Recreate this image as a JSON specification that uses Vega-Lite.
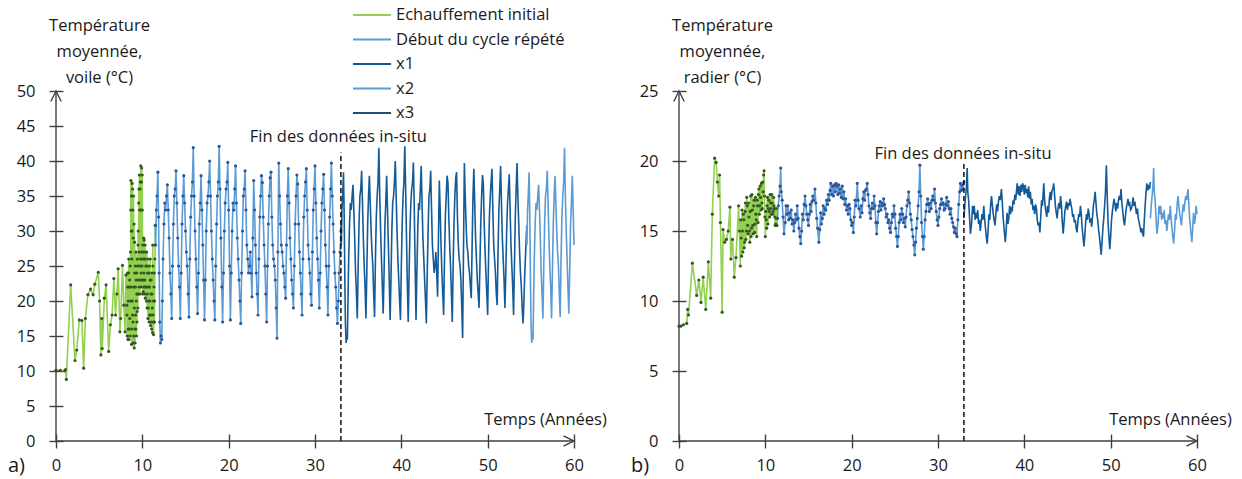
{
"$schema":"https://vega.github.io/schema/vega-lite/v6.json",
"background":"white",
"padding":{"left":8,"top":5,"right":0,"bottom":0},
"bounds":"flush",
"spacing":105,
"config":{
 "font":"Open Sans",
 "view":{"stroke":null},
 "axis":{"domain":false,"grid":false,"offset":-7,"tickSize":14,"tickColor":"#404040","tickWidth":1.4,"labelFontSize":16.5,"labelColor":"#1a1a1a","labelFlush":false,"titleFontSize":16.5,"titleFontWeight":"normal","titleColor":"#1a1a1a"},
 "title":{"fontSize":20,"fontWeight":"normal","orient":"bottom","anchor":"start","frame":"group","dx":-48,"dy":-22,"color":"#1a1a1a"}
},
"datasets":{
"L":[
{"t":0,"v":10.1,"s":"a"},{"t":0.5,"v":10.1,"s":"a"},{"t":1.0,"v":10.0,"s":"a"},{"t":1.1,"v":10.2,"s":"a"},{"t":1.2,"v":8.8,"s":"a"},{"t":1.7,"v":22.3,"s":"a"},{"t":2.2,"v":11.5,"s":"a"},{"t":2.4,"v":13,"s":"a"},{"t":2.7,"v":17.3,"s":"a"},{"t":3.0,"v":17.2,"s":"a"},{"t":3.2,"v":10.4,"s":"a"},{"t":3.4,"v":17.5,"s":"a"},{"t":3.7,"v":20.9,"s":"a"},{"t":4.0,"v":21.7,"s":"a"},{"t":4.3,"v":20.9,"s":"a"},{"t":4.5,"v":22.4,"s":"a"},{"t":4.9,"v":24.1,"s":"a"},{"t":5.05,"v":20,"s":"a"},{"t":5.2,"v":12.3,"s":"a"},{"t":5.3,"v":17.5,"s":"a"},{"t":5.35,"v":13.2,"s":"a"},{"t":5.6,"v":20.4,"s":"a"},{"t":5.8,"v":22.3,"s":"a"},{"t":6.1,"v":12.8,"s":"a"},{"t":6.3,"v":16.6,"s":"a"},{"t":6.5,"v":18,"s":"a"},{"t":6.7,"v":23.2,"s":"a"},{"t":6.9,"v":18,"s":"a"},{"t":7.05,"v":21,"s":"a"},{"t":7.2,"v":24.6,"s":"a"},{"t":7.4,"v":15.6,"s":"a"},{"t":7.5,"v":17.5,"s":"a"},{"t":7.7,"v":25.1,"s":"a"},{"t":7.85,"v":19.4,"s":"a"},{"t":8.0,"v":15.6,"s":"a"},{"t":8.1,"v":23.7,"s":"a"},{"t":8.2,"v":19.4,"s":"a"},{"t":8.25,"v":15,"s":"a"},{"t":8.3,"v":22,"s":"a"},{"t":8.35,"v":16,"s":"a"},{"t":8.4,"v":24,"s":"a"},{"t":8.45,"v":14.5,"s":"a"},{"t":8.5,"v":22,"s":"a"},{"t":8.55,"v":17.5,"s":"a"},{"t":8.6,"v":25,"s":"a"},{"t":8.65,"v":20,"s":"a"},{"t":8.68,"v":37.2,"s":"a"},{"t":8.72,"v":30,"s":"a"},{"t":8.75,"v":13.8,"s":"a"},{"t":8.78,"v":26,"s":"a"},{"t":8.82,"v":36.8,"s":"a"},{"t":8.86,"v":18,"s":"a"},{"t":8.9,"v":33,"s":"a"},{"t":8.94,"v":14,"s":"a"},{"t":8.98,"v":35,"s":"a"},{"t":9.02,"v":22,"s":"a"},{"t":9.06,"v":13.3,"s":"a"},{"t":9.1,"v":28.4,"s":"a"},{"t":9.14,"v":16,"s":"a"},{"t":9.18,"v":25,"s":"a"},{"t":9.22,"v":18,"s":"a"},{"t":9.26,"v":27,"s":"a"},{"t":9.3,"v":20,"s":"a"},{"t":9.34,"v":24,"s":"a"},{"t":9.38,"v":17,"s":"a"},{"t":9.42,"v":26,"s":"a"},{"t":9.46,"v":21,"s":"a"},{"t":9.5,"v":28,"s":"a"},{"t":9.54,"v":23,"s":"a"},{"t":9.58,"v":34,"s":"a"},{"t":9.62,"v":22,"s":"a"},{"t":9.66,"v":38,"s":"a"},{"t":9.7,"v":25,"s":"a"},{"t":9.74,"v":36,"s":"a"},{"t":9.78,"v":23,"s":"a"},{"t":9.82,"v":39.3,"s":"a"},{"t":9.86,"v":24,"s":"a"},{"t":9.9,"v":37,"s":"a"},{"t":9.94,"v":27,"s":"a"},{"t":9.98,"v":38,"s":"a"},{"t":10.02,"v":23,"s":"a"},{"t":10.06,"v":28,"s":"a"},{"t":10.1,"v":21.3,"s":"a"},{"t":10.14,"v":27,"s":"a"},{"t":10.18,"v":24,"s":"a"},{"t":10.22,"v":28.7,"s":"a"},{"t":10.26,"v":21,"s":"a"},{"t":10.3,"v":26,"s":"a"},{"t":10.35,"v":20.4,"s":"a"},{"t":10.4,"v":25,"s":"a"},{"t":10.45,"v":22,"s":"a"},{"t":10.5,"v":27,"s":"a"},{"t":10.55,"v":19,"s":"a"},{"t":10.6,"v":24,"s":"a"},{"t":10.65,"v":17.5,"s":"a"},{"t":10.7,"v":22,"s":"a"},{"t":10.75,"v":20,"s":"a"},{"t":10.8,"v":25,"s":"a"},{"t":10.85,"v":18,"s":"a"},{"t":10.9,"v":23,"s":"a"},{"t":10.95,"v":16.5,"s":"a"},{"t":11.0,"v":21,"s":"a"},{"t":11.05,"v":17,"s":"a"},{"t":11.1,"v":24,"s":"a"},{"t":11.15,"v":19,"s":"a"},{"t":11.2,"v":28,"s":"a"},{"t":11.25,"v":18,"s":"a"},{"t":11.3,"v":15.2,"s":"a"},{"t":11.35,"v":22,"s":"a"},{"t":11.4,"v":17,"s":"a"},{"t":11.45,"v":26,"s":"a"},{"t":11.5,"v":30.8,"s":"a"},
{"t":8.22,"v":18,"s":"a"},{"t":8.28,"v":24,"s":"a"},{"t":8.33,"v":14.5,"s":"a"},{"t":8.38,"v":20,"s":"a"},{"t":8.43,"v":26,"s":"a"},{"t":8.48,"v":16,"s":"a"},{"t":8.53,"v":23,"s":"a"},{"t":8.58,"v":15,"s":"a"},{"t":8.63,"v":27,"s":"a"},{"t":8.66,"v":33,"s":"a"},{"t":8.7,"v":22,"s":"a"},{"t":8.74,"v":35,"s":"a"},{"t":8.77,"v":16,"s":"a"},{"t":8.8,"v":30,"s":"a"},{"t":8.84,"v":20,"s":"a"},{"t":8.88,"v":36,"s":"a"},{"t":8.92,"v":17,"s":"a"},{"t":8.96,"v":29,"s":"a"},{"t":9.0,"v":15,"s":"a"},{"t":9.04,"v":31,"s":"a"},{"t":9.08,"v":19,"s":"a"},{"t":9.12,"v":24,"s":"a"},{"t":9.16,"v":14,"s":"a"},{"t":9.2,"v":22,"s":"a"},{"t":9.24,"v":16,"s":"a"},{"t":9.28,"v":23,"s":"a"},{"t":9.32,"v":15,"s":"a"},{"t":9.36,"v":21,"s":"a"},{"t":9.4,"v":18.5,"s":"a"},{"t":9.44,"v":25,"s":"a"},{"t":9.48,"v":19,"s":"a"},{"t":9.52,"v":30,"s":"a"},{"t":9.56,"v":21,"s":"a"},{"t":9.6,"v":36,"s":"a"},{"t":9.64,"v":27,"s":"a"},{"t":9.68,"v":33,"s":"a"},{"t":9.72,"v":21,"s":"a"},{"t":9.76,"v":37,"s":"a"},{"t":9.8,"v":26,"s":"a"},{"t":9.84,"v":33,"s":"a"},{"t":9.88,"v":22,"s":"a"},{"t":9.92,"v":39,"s":"a"},{"t":9.96,"v":25,"s":"a"},{"t":10.0,"v":33,"s":"a"},{"t":10.04,"v":21,"s":"a"},{"t":10.08,"v":26,"s":"a"},{"t":10.12,"v":23,"s":"a"},{"t":10.16,"v":29,"s":"a"},{"t":10.2,"v":22,"s":"a"},{"t":10.24,"v":26,"s":"a"},{"t":10.28,"v":23,"s":"a"},{"t":10.32,"v":28,"s":"a"},{"t":10.38,"v":22,"s":"a"},{"t":10.42,"v":27,"s":"a"},{"t":10.48,"v":20,"s":"a"},{"t":10.52,"v":25,"s":"a"},{"t":10.58,"v":21,"s":"a"},{"t":10.62,"v":26,"s":"a"},{"t":10.68,"v":19,"s":"a"},{"t":10.72,"v":24,"s":"a"},{"t":10.78,"v":17,"s":"a"},{"t":10.82,"v":22,"s":"a"},{"t":10.88,"v":20,"s":"a"},{"t":10.92,"v":26,"s":"a"},{"t":10.98,"v":18,"s":"a"},{"t":11.02,"v":23,"s":"a"},{"t":11.08,"v":16,"s":"a"},{"t":11.12,"v":21,"s":"a"},{"t":11.18,"v":15.5,"s":"a"},{"t":11.22,"v":25,"s":"a"},{"t":11.28,"v":20,"s":"a"},{"t":11.32,"v":17,"s":"a"},{"t":11.38,"v":24,"s":"a"},{"t":11.42,"v":20,"s":"a"},{"t":11.48,"v":28,"s":"a"},
{"t":11.5,"v":30.8,"s":"b"},{"t":11.55,"v":28,"s":"b"},{"t":11.62,"v":33,"s":"b"},{"t":11.7,"v":35,"s":"b"},{"t":11.8,"v":38.4,"s":"b"},{"t":11.88,"v":32,"s":"b"},{"t":11.95,"v":24,"s":"b"},{"t":12.02,"v":17,"s":"b"},{"t":12.1,"v":14,"s":"b"},{"t":12.18,"v":15,"s":"b"},{"t":12.25,"v":14.5,"s":"b"},{"t":12.32,"v":20,"s":"b"},{"t":12.4,"v":26,"s":"b"},{"t":12.5,"v":31,"s":"b"},{"t":12.6,"v":34,"s":"b"},{"t":12.7,"v":33,"s":"b"},{"t":12.8,"v":35,"s":"b"},{"t":12.9,"v":36.6,"s":"b"},{"t":13.0,"v":33,"s":"b"},{"t":13.1,"v":29,"s":"b"},{"t":13.2,"v":24,"s":"b"},{"t":13.3,"v":21,"s":"b"},{"t":13.4,"v":17.5,"s":"b"},{"t":13.5,"v":25,"s":"b"},{"t":13.6,"v":31,"s":"b"},{"t":13.7,"v":35,"s":"b"},{"t":13.8,"v":36,"s":"b"},{"t":13.9,"v":38.6,"s":"b"},{"t":14.0,"v":34,"s":"b"},{"t":14.1,"v":29,"s":"b"},{"t":14.2,"v":25,"s":"b"},{"t":14.3,"v":22,"s":"b"},{"t":14.4,"v":17.5,"s":"b"},{"t":14.5,"v":24,"s":"b"},{"t":14.6,"v":31,"s":"b"},{"t":14.7,"v":35,"s":"b"},{"t":14.8,"v":37.9,"s":"b"},{"t":14.9,"v":34,"s":"b"},{"t":15.0,"v":30,"s":"b"},{"t":15.1,"v":27,"s":"b"},{"t":15.2,"v":25,"s":"b"},{"t":15.3,"v":21,"s":"b"},{"t":15.4,"v":17.7,"s":"b"},{"t":15.5,"v":26,"s":"b"},{"t":15.6,"v":32,"s":"b"},{"t":15.7,"v":35,"s":"b"},{"t":15.8,"v":37,"s":"b"},{"t":15.9,"v":41.9,"s":"b"},{"t":16.0,"v":35,"s":"b"},{"t":16.1,"v":30,"s":"b"},{"t":16.2,"v":26,"s":"b"},{"t":16.3,"v":22,"s":"b"},{"t":16.4,"v":18.2,"s":"b"},{"t":16.5,"v":24,"s":"b"},{"t":16.6,"v":31,"s":"b"},{"t":16.7,"v":34,"s":"b"},{"t":16.8,"v":37.9,"s":"b"},{"t":16.9,"v":33,"s":"b"},{"t":17.0,"v":28,"s":"b"},{"t":17.1,"v":23,"s":"b"},{"t":17.2,"v":17.3,"s":"b"},{"t":17.3,"v":23,"s":"b"},{"t":17.4,"v":30,"s":"b"},{"t":17.5,"v":34,"s":"b"},{"t":17.6,"v":35,"s":"b"},{"t":17.7,"v":37,"s":"b"},{"t":17.8,"v":40,"s":"b"},{"t":17.9,"v":35,"s":"b"},{"t":18.0,"v":30,"s":"b"},{"t":18.1,"v":26,"s":"b"},{"t":18.2,"v":23,"s":"b"},{"t":18.3,"v":20,"s":"b"},{"t":18.4,"v":17.3,"s":"b"},{"t":18.5,"v":25,"s":"b"},{"t":18.6,"v":31,"s":"b"},{"t":18.7,"v":35,"s":"b"},{"t":18.8,"v":37,"s":"b"},{"t":18.9,"v":42.1,"s":"b"},{"t":19.0,"v":36,"s":"b"},{"t":19.1,"v":29,"s":"b"},{"t":19.2,"v":22,"s":"b"},{"t":19.3,"v":17,"s":"b"},{"t":19.4,"v":24,"s":"b"},{"t":19.5,"v":30,"s":"b"},{"t":19.6,"v":34,"s":"b"},{"t":19.7,"v":36,"s":"b"},{"t":19.8,"v":37,"s":"b"},{"t":19.9,"v":39.8,"s":"b"},{"t":20.0,"v":33,"s":"b"},{"t":20.1,"v":25,"s":"b"},{"t":20.2,"v":17.3,"s":"b"},{"t":20.3,"v":24,"s":"b"},{"t":20.4,"v":30,"s":"b"},{"t":20.5,"v":34,"s":"b"},{"t":20.6,"v":33,"s":"b"},{"t":20.7,"v":36,"s":"b"},{"t":20.8,"v":39.3,"s":"b"},{"t":20.9,"v":34,"s":"b"},{"t":21.0,"v":29,"s":"b"},{"t":21.1,"v":26,"s":"b"},{"t":21.2,"v":23,"s":"b"},{"t":21.3,"v":20,"s":"b"},{"t":21.4,"v":16.8,"s":"b"},{"t":21.5,"v":24,"s":"b"},{"t":21.6,"v":30,"s":"b"},{"t":21.7,"v":35,"s":"b"},{"t":21.8,"v":36,"s":"b"},{"t":21.9,"v":38.6,"s":"b"},{"t":22.0,"v":33,"s":"b"},{"t":22.1,"v":28,"s":"b"},{"t":22.2,"v":26,"s":"b"},{"t":22.3,"v":24,"s":"b"},{"t":22.4,"v":25,"s":"b"},{"t":22.5,"v":27,"s":"b"},{"t":22.6,"v":24,"s":"b"},{"t":22.7,"v":20.6,"s":"b"},{"t":22.8,"v":29,"s":"b"},{"t":22.9,"v":37.2,"s":"b"},{"t":23.0,"v":33,"s":"b"},{"t":23.1,"v":28,"s":"b"},{"t":23.2,"v":24,"s":"b"},{"t":23.3,"v":21,"s":"b"},{"t":23.4,"v":18,"s":"b"},{"t":23.5,"v":26,"s":"b"},{"t":23.6,"v":32,"s":"b"},{"t":23.7,"v":35,"s":"b"},{"t":23.8,"v":37.9,"s":"b"},{"t":23.9,"v":36.9,"s":"b"},{"t":24.0,"v":32,"s":"b"},{"t":24.1,"v":28,"s":"b"},{"t":24.2,"v":25,"s":"b"},{"t":24.3,"v":21,"s":"b"},{"t":24.4,"v":17,"s":"b"},{"t":24.5,"v":25,"s":"b"},{"t":24.6,"v":31,"s":"b"},{"t":24.7,"v":35,"s":"b"},{"t":24.8,"v":37.6,"s":"b"},{"t":24.9,"v":38.4,"s":"b"},{"t":25.0,"v":32,"s":"b"},{"t":25.1,"v":28,"s":"b"},{"t":25.2,"v":26,"s":"b"},{"t":25.3,"v":25,"s":"b"},{"t":25.4,"v":23,"s":"b"},{"t":25.5,"v":19,"s":"b"},{"t":25.6,"v":14.7,"s":"b"},{"t":25.7,"v":27,"s":"b"},{"t":25.8,"v":39.7,"s":"b"},{"t":25.9,"v":35,"s":"b"},{"t":26.0,"v":31,"s":"b"},{"t":26.1,"v":28,"s":"b"},{"t":26.2,"v":27,"s":"b"},{"t":26.3,"v":25,"s":"b"},{"t":26.4,"v":24,"s":"b"},{"t":26.5,"v":22,"s":"b"},{"t":26.6,"v":20.4,"s":"b"},{"t":26.7,"v":28,"s":"b"},{"t":26.8,"v":35,"s":"b"},{"t":26.9,"v":38.9,"s":"b"},{"t":27.0,"v":34,"s":"b"},{"t":27.1,"v":29,"s":"b"},{"t":27.2,"v":26,"s":"b"},{"t":27.3,"v":23,"s":"b"},{"t":27.4,"v":21,"s":"b"},{"t":27.5,"v":19,"s":"b"},{"t":27.6,"v":25,"s":"b"},{"t":27.7,"v":31,"s":"b"},{"t":27.8,"v":35,"s":"b"},{"t":27.9,"v":38,"s":"b"},{"t":28.0,"v":36.7,"s":"b"},{"t":28.1,"v":31,"s":"b"},{"t":28.2,"v":27,"s":"b"},{"t":28.3,"v":24,"s":"b"},{"t":28.4,"v":21,"s":"b"},{"t":28.5,"v":18,"s":"b"},{"t":28.6,"v":26,"s":"b"},{"t":28.7,"v":32,"s":"b"},{"t":28.8,"v":35,"s":"b"},{"t":28.9,"v":37,"s":"b"},{"t":29.0,"v":38.9,"s":"b"},{"t":29.1,"v":33,"s":"b"},{"t":29.2,"v":28,"s":"b"},{"t":29.3,"v":26,"s":"b"},{"t":29.4,"v":24,"s":"b"},{"t":29.5,"v":21,"s":"b"},{"t":29.6,"v":19.4,"s":"b"},{"t":29.7,"v":27,"s":"b"},{"t":29.8,"v":33,"s":"b"},{"t":29.9,"v":36,"s":"b"},{"t":30.0,"v":39.3,"s":"b"},{"t":30.1,"v":34,"s":"b"},{"t":30.2,"v":29,"s":"b"},{"t":30.3,"v":26,"s":"b"},{"t":30.4,"v":23,"s":"b"},{"t":30.5,"v":19,"s":"b"},{"t":30.6,"v":24,"s":"b"},{"t":30.7,"v":30,"s":"b"},{"t":30.8,"v":34,"s":"b"},{"t":30.9,"v":36,"s":"b"},{"t":31.0,"v":38.1,"s":"b"},{"t":31.1,"v":33,"s":"b"},{"t":31.2,"v":28,"s":"b"},{"t":31.3,"v":25,"s":"b"},{"t":31.4,"v":22,"s":"b"},{"t":31.5,"v":18,"s":"b"},{"t":31.6,"v":25,"s":"b"},{"t":31.7,"v":32,"s":"b"},{"t":31.8,"v":36,"s":"b"},{"t":31.9,"v":39.7,"s":"b"},{"t":32.0,"v":35,"s":"b"},{"t":32.1,"v":31,"s":"b"},{"t":32.2,"v":27,"s":"b"},{"t":32.3,"v":24,"s":"b"},{"t":32.4,"v":22,"s":"b"},{"t":32.5,"v":19,"s":"b"},{"t":32.6,"v":16.8,"s":"b"},{"t":32.7,"v":20,"s":"b"},{"t":32.8,"v":24,"s":"b"},{"t":32.9,"v":27,"s":"b"},{"t":33.0,"v":30,"s":"b"},
{"t":33,"v":30.8,"s":"c"},{"t":33.05,"v":28,"s":"c"},{"t":33.12,"v":33,"s":"c"},{"t":33.2,"v":35,"s":"c"},{"t":33.3,"v":38.4,"s":"c"},{"t":33.38,"v":32,"s":"c"},{"t":33.45,"v":24,"s":"c"},{"t":33.52,"v":17,"s":"c"},{"t":33.6,"v":14,"s":"c"},{"t":33.68,"v":15,"s":"c"},{"t":33.75,"v":14.5,"s":"c"},{"t":33.82,"v":20,"s":"c"},{"t":33.9,"v":26,"s":"c"},{"t":34,"v":31,"s":"c"},{"t":34.1,"v":34,"s":"c"},{"t":34.2,"v":33,"s":"c"},{"t":34.3,"v":35,"s":"c"},{"t":34.4,"v":36.6,"s":"c"},{"t":34.5,"v":33,"s":"c"},{"t":34.6,"v":29,"s":"c"},{"t":34.7,"v":24,"s":"c"},{"t":34.8,"v":21,"s":"c"},{"t":34.9,"v":17.5,"s":"c"},{"t":35,"v":25,"s":"c"},{"t":35.1,"v":31,"s":"c"},{"t":35.2,"v":35,"s":"c"},{"t":35.3,"v":36,"s":"c"},{"t":35.4,"v":38.6,"s":"c"},{"t":35.5,"v":34,"s":"c"},{"t":35.6,"v":29,"s":"c"},{"t":35.7,"v":25,"s":"c"},{"t":35.8,"v":22,"s":"c"},{"t":35.9,"v":17.5,"s":"c"},{"t":36,"v":24,"s":"c"},{"t":36.1,"v":31,"s":"c"},{"t":36.2,"v":35,"s":"c"},{"t":36.3,"v":37.9,"s":"c"},{"t":36.4,"v":34,"s":"c"},{"t":36.5,"v":30,"s":"c"},{"t":36.6,"v":27,"s":"c"},{"t":36.7,"v":25,"s":"c"},{"t":36.8,"v":21,"s":"c"},{"t":36.9,"v":17.7,"s":"c"},{"t":37,"v":26,"s":"c"},{"t":37.1,"v":32,"s":"c"},{"t":37.2,"v":35,"s":"c"},{"t":37.3,"v":37,"s":"c"},{"t":37.4,"v":41.9,"s":"c"},{"t":37.5,"v":35,"s":"c"},{"t":37.6,"v":30,"s":"c"},{"t":37.7,"v":26,"s":"c"},{"t":37.8,"v":22,"s":"c"},{"t":37.9,"v":18.2,"s":"c"},{"t":38,"v":24,"s":"c"},{"t":38.1,"v":31,"s":"c"},{"t":38.2,"v":34,"s":"c"},{"t":38.3,"v":37.9,"s":"c"},{"t":38.4,"v":33,"s":"c"},{"t":38.5,"v":28,"s":"c"},{"t":38.6,"v":23,"s":"c"},{"t":38.7,"v":17.3,"s":"c"},{"t":38.8,"v":23,"s":"c"},{"t":38.9,"v":30,"s":"c"},{"t":39,"v":34,"s":"c"},{"t":39.1,"v":35,"s":"c"},{"t":39.2,"v":37,"s":"c"},{"t":39.3,"v":40,"s":"c"},{"t":39.4,"v":35,"s":"c"},{"t":39.5,"v":30,"s":"c"},{"t":39.6,"v":26,"s":"c"},{"t":39.7,"v":23,"s":"c"},{"t":39.8,"v":20,"s":"c"},{"t":39.9,"v":17.3,"s":"c"},{"t":40,"v":25,"s":"c"},{"t":40.1,"v":31,"s":"c"},{"t":40.2,"v":35,"s":"c"},{"t":40.3,"v":37,"s":"c"},{"t":40.4,"v":42.1,"s":"c"},{"t":40.5,"v":36,"s":"c"},{"t":40.6,"v":29,"s":"c"},{"t":40.7,"v":22,"s":"c"},{"t":40.8,"v":17,"s":"c"},{"t":40.9,"v":24,"s":"c"},{"t":41,"v":30,"s":"c"},{"t":41.1,"v":34,"s":"c"},{"t":41.2,"v":36,"s":"c"},{"t":41.3,"v":37,"s":"c"},{"t":41.4,"v":39.8,"s":"c"},{"t":41.5,"v":33,"s":"c"},{"t":41.6,"v":25,"s":"c"},{"t":41.7,"v":17.3,"s":"c"},{"t":41.8,"v":24,"s":"c"},{"t":41.9,"v":30,"s":"c"},{"t":42,"v":34,"s":"c"},{"t":42.1,"v":33,"s":"c"},{"t":42.2,"v":36,"s":"c"},{"t":42.3,"v":39.3,"s":"c"},{"t":42.4,"v":34,"s":"c"},{"t":42.5,"v":29,"s":"c"},{"t":42.6,"v":26,"s":"c"},{"t":42.7,"v":23,"s":"c"},{"t":42.8,"v":20,"s":"c"},{"t":42.9,"v":16.8,"s":"c"},{"t":43,"v":24,"s":"c"},{"t":43.1,"v":30,"s":"c"},{"t":43.2,"v":35,"s":"c"},{"t":43.3,"v":36,"s":"c"},{"t":43.4,"v":38.6,"s":"c"},{"t":43.5,"v":33,"s":"c"},{"t":43.6,"v":28,"s":"c"},{"t":43.7,"v":26,"s":"c"},{"t":43.8,"v":24,"s":"c"},{"t":43.9,"v":25,"s":"c"},{"t":44,"v":27,"s":"c"},{"t":44.1,"v":24,"s":"c"},{"t":44.2,"v":20.6,"s":"c"},{"t":44.3,"v":29,"s":"c"},{"t":44.4,"v":37.2,"s":"c"},{"t":44.5,"v":33,"s":"c"},{"t":44.6,"v":28,"s":"c"},{"t":44.7,"v":24,"s":"c"},{"t":44.8,"v":21,"s":"c"},{"t":44.9,"v":18,"s":"c"},{"t":45,"v":26,"s":"c"},{"t":45.1,"v":32,"s":"c"},{"t":45.2,"v":35,"s":"c"},{"t":45.3,"v":37.9,"s":"c"},{"t":45.4,"v":36.9,"s":"c"},{"t":45.5,"v":32,"s":"c"},{"t":45.6,"v":28,"s":"c"},{"t":45.7,"v":25,"s":"c"},{"t":45.8,"v":21,"s":"c"},{"t":45.9,"v":17,"s":"c"},{"t":46,"v":25,"s":"c"},{"t":46.1,"v":31,"s":"c"},{"t":46.2,"v":35,"s":"c"},{"t":46.3,"v":37.6,"s":"c"},{"t":46.4,"v":38.4,"s":"c"},{"t":46.5,"v":32,"s":"c"},{"t":46.6,"v":28,"s":"c"},{"t":46.7,"v":26,"s":"c"},{"t":46.8,"v":25,"s":"c"},{"t":46.9,"v":23,"s":"c"},{"t":47,"v":19,"s":"c"},{"t":47.1,"v":14.7,"s":"c"},{"t":47.2,"v":27,"s":"c"},{"t":47.3,"v":39.7,"s":"c"},{"t":47.4,"v":35,"s":"c"},{"t":47.5,"v":31,"s":"c"},{"t":47.6,"v":28,"s":"c"},{"t":47.7,"v":27,"s":"c"},{"t":47.8,"v":25,"s":"c"},{"t":47.9,"v":24,"s":"c"},{"t":48,"v":22,"s":"c"},{"t":48.1,"v":20.4,"s":"c"},{"t":48.2,"v":28,"s":"c"},{"t":48.3,"v":35,"s":"c"},{"t":48.4,"v":38.9,"s":"c"},{"t":48.5,"v":34,"s":"c"},{"t":48.6,"v":29,"s":"c"},{"t":48.7,"v":26,"s":"c"},{"t":48.8,"v":23,"s":"c"},{"t":48.9,"v":21,"s":"c"},{"t":49,"v":19,"s":"c"},{"t":49.1,"v":25,"s":"c"},{"t":49.2,"v":31,"s":"c"},{"t":49.3,"v":35,"s":"c"},{"t":49.4,"v":38,"s":"c"},{"t":49.5,"v":36.7,"s":"c"},{"t":49.6,"v":31,"s":"c"},{"t":49.7,"v":27,"s":"c"},{"t":49.8,"v":24,"s":"c"},{"t":49.9,"v":21,"s":"c"},{"t":50,"v":18,"s":"c"},{"t":50.1,"v":26,"s":"c"},{"t":50.2,"v":32,"s":"c"},{"t":50.3,"v":35,"s":"c"},{"t":50.4,"v":37,"s":"c"},{"t":50.5,"v":38.9,"s":"c"},{"t":50.6,"v":33,"s":"c"},{"t":50.7,"v":28,"s":"c"},{"t":50.8,"v":26,"s":"c"},{"t":50.9,"v":24,"s":"c"},{"t":51,"v":21,"s":"c"},{"t":51.1,"v":19.4,"s":"c"},{"t":51.2,"v":27,"s":"c"},{"t":51.3,"v":33,"s":"c"},{"t":51.4,"v":36,"s":"c"},{"t":51.5,"v":39.3,"s":"c"},{"t":51.6,"v":34,"s":"c"},{"t":51.7,"v":29,"s":"c"},{"t":51.8,"v":26,"s":"c"},{"t":51.9,"v":23,"s":"c"},{"t":52,"v":19,"s":"c"},{"t":52.1,"v":24,"s":"c"},{"t":52.2,"v":30,"s":"c"},{"t":52.3,"v":34,"s":"c"},{"t":52.4,"v":36,"s":"c"},{"t":52.5,"v":38.1,"s":"c"},{"t":52.6,"v":33,"s":"c"},{"t":52.7,"v":28,"s":"c"},{"t":52.8,"v":25,"s":"c"},{"t":52.9,"v":22,"s":"c"},{"t":53,"v":18,"s":"c"},{"t":53.1,"v":25,"s":"c"},{"t":53.2,"v":32,"s":"c"},{"t":53.3,"v":36,"s":"c"},{"t":53.4,"v":39.7,"s":"c"},{"t":53.5,"v":35,"s":"c"},{"t":53.6,"v":31,"s":"c"},{"t":53.7,"v":27,"s":"c"},{"t":53.8,"v":24,"s":"c"},{"t":53.9,"v":22,"s":"c"},{"t":54,"v":19,"s":"c"},{"t":54.1,"v":16.8,"s":"c"},{"t":54.2,"v":20,"s":"c"},{"t":54.3,"v":24,"s":"c"},{"t":54.4,"v":27,"s":"c"},{"t":54.5,"v":30,"s":"c"},
{"t":54.5,"v":30.8,"s":"d"},{"t":54.55,"v":28,"s":"d"},{"t":54.62,"v":33,"s":"d"},{"t":54.7,"v":35,"s":"d"},{"t":54.8,"v":38.4,"s":"d"},{"t":54.88,"v":32,"s":"d"},{"t":54.95,"v":24,"s":"d"},{"t":55.02,"v":17,"s":"d"},{"t":55.1,"v":14,"s":"d"},{"t":55.18,"v":15,"s":"d"},{"t":55.25,"v":14.5,"s":"d"},{"t":55.32,"v":20,"s":"d"},{"t":55.4,"v":26,"s":"d"},{"t":55.5,"v":31,"s":"d"},{"t":55.6,"v":34,"s":"d"},{"t":55.7,"v":33,"s":"d"},{"t":55.8,"v":35,"s":"d"},{"t":55.9,"v":36.6,"s":"d"},{"t":56,"v":33,"s":"d"},{"t":56.1,"v":29,"s":"d"},{"t":56.2,"v":24,"s":"d"},{"t":56.3,"v":21,"s":"d"},{"t":56.4,"v":17.5,"s":"d"},{"t":56.5,"v":25,"s":"d"},{"t":56.6,"v":31,"s":"d"},{"t":56.7,"v":35,"s":"d"},{"t":56.8,"v":36,"s":"d"},{"t":56.9,"v":38.6,"s":"d"},{"t":57,"v":34,"s":"d"},{"t":57.1,"v":29,"s":"d"},{"t":57.2,"v":25,"s":"d"},{"t":57.3,"v":22,"s":"d"},{"t":57.4,"v":17.5,"s":"d"},{"t":57.5,"v":24,"s":"d"},{"t":57.6,"v":31,"s":"d"},{"t":57.7,"v":35,"s":"d"},{"t":57.8,"v":37.9,"s":"d"},{"t":57.9,"v":34,"s":"d"},{"t":58,"v":30,"s":"d"},{"t":58.1,"v":27,"s":"d"},{"t":58.2,"v":25,"s":"d"},{"t":58.3,"v":21,"s":"d"},{"t":58.4,"v":17.7,"s":"d"},{"t":58.5,"v":26,"s":"d"},{"t":58.6,"v":32,"s":"d"},{"t":58.7,"v":35,"s":"d"},{"t":58.8,"v":37,"s":"d"},{"t":58.9,"v":41.9,"s":"d"},{"t":59,"v":35,"s":"d"},{"t":59.1,"v":30,"s":"d"},{"t":59.2,"v":26,"s":"d"},{"t":59.3,"v":22,"s":"d"},{"t":59.4,"v":18.2,"s":"d"},{"t":59.5,"v":24,"s":"d"},{"t":59.6,"v":31,"s":"d"},{"t":59.7,"v":34,"s":"d"},{"t":59.8,"v":37.9,"s":"d"},{"t":59.9,"v":33,"s":"d"},{"t":60,"v":28,"s":"d"}
],
"R":[
{"t":0,"v":8.2,"s":"a"},{"t":0.2,"v":8.2,"s":"a"},{"t":0.5,"v":8.3,"s":"a"},{"t":0.9,"v":8.4,"s":"a"},{"t":1.0,"v":9.4,"s":"a"},{"t":1.1,"v":9.0,"s":"a"},{"t":1.55,"v":12.7,"s":"a"},{"t":2.05,"v":10.4,"s":"a"},{"t":2.3,"v":11.5,"s":"a"},{"t":2.55,"v":9.9,"s":"a"},{"t":2.8,"v":11.7,"s":"a"},{"t":3.1,"v":9.4,"s":"a"},{"t":3.4,"v":12.8,"s":"a"},{"t":3.67,"v":10.2,"s":"a"},{"t":3.86,"v":16.2,"s":"a"},{"t":4.13,"v":20.2,"s":"a"},{"t":4.3,"v":19.9,"s":"a"},{"t":4.45,"v":18.5,"s":"a"},{"t":4.6,"v":17.5,"s":"a"},{"t":4.7,"v":19,"s":"a"},{"t":4.8,"v":15.6,"s":"a"},{"t":5.0,"v":9.2,"s":"a"},{"t":5.1,"v":15.1,"s":"a"},{"t":5.3,"v":14.2,"s":"a"},{"t":5.5,"v":14.4,"s":"a"},{"t":5.7,"v":15,"s":"a"},{"t":5.9,"v":16.7,"s":"a"},{"t":6.0,"v":13,"s":"a"},{"t":6.2,"v":14.4,"s":"a"},{"t":6.4,"v":11.7,"s":"a"},{"t":6.6,"v":13.1,"s":"a"},{"t":6.9,"v":16.8,"s":"a"},{"t":7.0,"v":15,"s":"a"},{"t":7.1,"v":12.5,"s":"a"},{"t":7.2,"v":14.5,"s":"a"},{"t":7.3,"v":16.5,"s":"a"},{"t":7.4,"v":13.5,"s":"a"},{"t":7.5,"v":15.8,"s":"a"},{"t":7.6,"v":14.2,"s":"a"},{"t":7.7,"v":17,"s":"a"},{"t":7.8,"v":15,"s":"a"},{"t":7.9,"v":16.8,"s":"a"},{"t":8.0,"v":14.8,"s":"a"},{"t":8.1,"v":16,"s":"a"},{"t":8.2,"v":14.2,"s":"a"},{"t":8.3,"v":17.5,"s":"a"},{"t":8.4,"v":15.2,"s":"a"},{"t":8.5,"v":16.5,"s":"a"},{"t":8.6,"v":14.8,"s":"a"},{"t":8.7,"v":17.2,"s":"a"},{"t":8.8,"v":15.5,"s":"a"},{"t":8.9,"v":16.2,"s":"a"},{"t":9.0,"v":14.6,"s":"a"},{"t":9.1,"v":16.8,"s":"a"},{"t":9.2,"v":17.6,"s":"a"},{"t":9.3,"v":16.2,"s":"a"},{"t":9.4,"v":18.2,"s":"a"},{"t":9.5,"v":16.5,"s":"a"},{"t":9.6,"v":17,"s":"a"},{"t":9.7,"v":18.5,"s":"a"},{"t":9.8,"v":19,"s":"a"},{"t":9.85,"v":19.3,"s":"a"},{"t":9.9,"v":17.5,"s":"a"},{"t":9.95,"v":16,"s":"a"},{"t":10.0,"v":14.6,"s":"a"},{"t":10.1,"v":15.8,"s":"a"},{"t":10.2,"v":16.8,"s":"a"},{"t":10.3,"v":15.5,"s":"a"},{"t":10.4,"v":17.2,"s":"a"},{"t":10.5,"v":16,"s":"a"},{"t":10.6,"v":17,"s":"a"},{"t":10.7,"v":16.2,"s":"a"},{"t":10.8,"v":17,"s":"a"},{"t":10.9,"v":16.4,"s":"a"},{"t":11.0,"v":16.8,"s":"a"},{"t":11.1,"v":16,"s":"a"},{"t":11.2,"v":15.5,"s":"a"},{"t":11.3,"v":15.9,"s":"a"},{"t":11.4,"v":15.9,"s":"a"},
{"t":7.15,"v":15.8,"s":"a"},{"t":7.25,"v":13.2,"s":"a"},{"t":7.35,"v":15,"s":"a"},{"t":7.45,"v":16.2,"s":"a"},{"t":7.55,"v":13.8,"s":"a"},{"t":7.65,"v":16.4,"s":"a"},{"t":7.75,"v":14.4,"s":"a"},{"t":7.85,"v":17.4,"s":"a"},{"t":7.95,"v":15.4,"s":"a"},{"t":8.05,"v":17,"s":"a"},{"t":8.15,"v":15,"s":"a"},{"t":8.25,"v":16.4,"s":"a"},{"t":8.35,"v":14.6,"s":"a"},{"t":8.45,"v":17.6,"s":"a"},{"t":8.55,"v":15.4,"s":"a"},{"t":8.65,"v":16.8,"s":"a"},{"t":8.75,"v":14.9,"s":"a"},{"t":8.85,"v":17.4,"s":"a"},{"t":8.95,"v":15.8,"s":"a"},{"t":9.05,"v":17.2,"s":"a"},{"t":9.15,"v":15.6,"s":"a"},{"t":9.25,"v":18,"s":"a"},{"t":9.35,"v":16.8,"s":"a"},{"t":9.45,"v":17.4,"s":"a"},{"t":9.55,"v":18.4,"s":"a"},{"t":9.65,"v":16.6,"s":"a"},{"t":9.75,"v":17.8,"s":"a"},{"t":10.05,"v":16.4,"s":"a"},{"t":10.15,"v":15.2,"s":"a"},{"t":10.25,"v":17.4,"s":"a"},{"t":10.35,"v":16.6,"s":"a"},{"t":10.45,"v":16.4,"s":"a"},{"t":10.55,"v":17.6,"s":"a"},{"t":10.65,"v":16.6,"s":"a"},{"t":10.75,"v":17.6,"s":"a"},{"t":10.85,"v":16.2,"s":"a"},{"t":10.95,"v":17.4,"s":"a"},{"t":11.05,"v":16.6,"s":"a"},{"t":11.15,"v":15.4,"s":"a"},{"t":11.25,"v":16.6,"s":"a"},{"t":11.35,"v":15.4,"s":"a"},
{"t":11.4,"v":15.9,"s":"b"},{"t":11.5,"v":16.8,"s":"b"},{"t":11.6,"v":17.5,"s":"b"},{"t":11.7,"v":18.2,"s":"b"},{"t":11.78,"v":19.5,"s":"b"},{"t":11.85,"v":17.8,"s":"b"},{"t":11.95,"v":17.2,"s":"b"},{"t":12.05,"v":16,"s":"b"},{"t":12.16,"v":14.8,"s":"b"},{"t":12.3,"v":15.6,"s":"b"},{"t":12.4,"v":16.8,"s":"b"},{"t":12.5,"v":16.2,"s":"b"},{"t":12.6,"v":16.8,"s":"b"},{"t":12.7,"v":15.8,"s":"b"},{"t":12.8,"v":16.3,"s":"b"},{"t":12.9,"v":15.9,"s":"b"},{"t":13.0,"v":16.5,"s":"b"},{"t":13.1,"v":15.5,"s":"b"},{"t":13.2,"v":15.8,"s":"b"},{"t":13.3,"v":15,"s":"b"},{"t":13.4,"v":15.6,"s":"b"},{"t":13.5,"v":16.2,"s":"b"},{"t":13.6,"v":15.8,"s":"b"},{"t":13.7,"v":16.8,"s":"b"},{"t":13.8,"v":15.9,"s":"b"},{"t":13.9,"v":15.2,"s":"b"},{"t":14.0,"v":14.6,"s":"b"},{"t":14.1,"v":14.1,"s":"b"},{"t":14.2,"v":15,"s":"b"},{"t":14.3,"v":16.2,"s":"b"},{"t":14.4,"v":15.8,"s":"b"},{"t":14.5,"v":16.9,"s":"b"},{"t":14.6,"v":17.5,"s":"b"},{"t":14.7,"v":16.8,"s":"b"},{"t":14.8,"v":16.2,"s":"b"},{"t":14.9,"v":15.8,"s":"b"},{"t":15.0,"v":15.4,"s":"b"},{"t":15.1,"v":16.2,"s":"b"},{"t":15.2,"v":16.9,"s":"b"},{"t":15.3,"v":16.4,"s":"b"},{"t":15.4,"v":17.1,"s":"b"},{"t":15.5,"v":17.5,"s":"b"},{"t":15.6,"v":17.2,"s":"b"},{"t":15.75,"v":18,"s":"b"},{"t":15.85,"v":17,"s":"b"},{"t":15.95,"v":15.9,"s":"b"},{"t":16.05,"v":15.2,"s":"b"},{"t":16.2,"v":14.2,"s":"b"},{"t":16.3,"v":15.1,"s":"b"},{"t":16.4,"v":16.3,"s":"b"},{"t":16.5,"v":15.5,"s":"b"},{"t":16.6,"v":15.9,"s":"b"},{"t":16.7,"v":16.8,"s":"b"},{"t":16.8,"v":16.2,"s":"b"},{"t":16.9,"v":16.6,"s":"b"},{"t":17.0,"v":16.5,"s":"b"},{"t":17.1,"v":17.2,"s":"b"},{"t":17.2,"v":16.9,"s":"b"},{"t":17.3,"v":17.6,"s":"b"},{"t":17.4,"v":17.2,"s":"b"},{"t":17.5,"v":17.9,"s":"b"},{"t":17.57,"v":18.4,"s":"b"},{"t":17.7,"v":17.6,"s":"b"},{"t":17.8,"v":18.2,"s":"b"},{"t":17.9,"v":17.5,"s":"b"},{"t":18.0,"v":18.3,"s":"b"},{"t":18.1,"v":17.8,"s":"b"},{"t":18.2,"v":18.4,"s":"b"},{"t":18.3,"v":18.2,"s":"b"},{"t":18.4,"v":17.6,"s":"b"},{"t":18.5,"v":18.3,"s":"b"},{"t":18.6,"v":17.7,"s":"b"},{"t":18.7,"v":18,"s":"b"},{"t":18.8,"v":17.4,"s":"b"},{"t":18.9,"v":18.2,"s":"b"},{"t":19.0,"v":17.3,"s":"b"},{"t":19.1,"v":17.8,"s":"b"},{"t":19.2,"v":16.9,"s":"b"},{"t":19.3,"v":17.3,"s":"b"},{"t":19.4,"v":16.5,"s":"b"},{"t":19.5,"v":16.8,"s":"b"},{"t":19.6,"v":16.2,"s":"b"},{"t":19.7,"v":16.9,"s":"b"},{"t":19.8,"v":16.6,"s":"b"},{"t":19.9,"v":15.8,"s":"b"},{"t":20.0,"v":15.4,"s":"b"},{"t":20.1,"v":15.6,"s":"b"},{"t":20.2,"v":14.9,"s":"b"},{"t":20.3,"v":16,"s":"b"},{"t":20.4,"v":17.2,"s":"b"},{"t":20.5,"v":16.8,"s":"b"},{"t":20.65,"v":18.4,"s":"b"},{"t":20.75,"v":17.2,"s":"b"},{"t":20.85,"v":16.6,"s":"b"},{"t":21.0,"v":16,"s":"b"},{"t":21.1,"v":16.8,"s":"b"},{"t":21.2,"v":16.3,"s":"b"},{"t":21.3,"v":17.3,"s":"b"},{"t":21.4,"v":17.8,"s":"b"},{"t":21.5,"v":17.2,"s":"b"},{"t":21.6,"v":17.9,"s":"b"},{"t":21.7,"v":18,"s":"b"},{"t":21.8,"v":18.4,"s":"b"},{"t":21.9,"v":17.6,"s":"b"},{"t":22.0,"v":16.8,"s":"b"},{"t":22.1,"v":16.3,"s":"b"},{"t":22.2,"v":15.9,"s":"b"},{"t":22.3,"v":16.6,"s":"b"},{"t":22.4,"v":17,"s":"b"},{"t":22.5,"v":16.6,"s":"b"},{"t":22.6,"v":17.5,"s":"b"},{"t":22.7,"v":16.8,"s":"b"},{"t":22.8,"v":15.6,"s":"b"},{"t":22.9,"v":14.8,"s":"b"},{"t":23.0,"v":15.6,"s":"b"},{"t":23.1,"v":16.4,"s":"b"},{"t":23.2,"v":16.8,"s":"b"},{"t":23.3,"v":17.1,"s":"b"},{"t":23.4,"v":16.5,"s":"b"},{"t":23.5,"v":17,"s":"b"},{"t":23.6,"v":16.8,"s":"b"},{"t":23.7,"v":17.3,"s":"b"},{"t":23.8,"v":16.9,"s":"b"},{"t":23.9,"v":16.6,"s":"b"},{"t":24.0,"v":16,"s":"b"},{"t":24.1,"v":16.2,"s":"b"},{"t":24.2,"v":15.6,"s":"b"},{"t":24.3,"v":15.8,"s":"b"},{"t":24.4,"v":15.2,"s":"b"},{"t":24.5,"v":14.9,"s":"b"},{"t":24.6,"v":15.6,"s":"b"},{"t":24.7,"v":16.2,"s":"b"},{"t":24.8,"v":16,"s":"b"},{"t":24.9,"v":16.8,"s":"b"},{"t":25.0,"v":16.2,"s":"b"},{"t":25.1,"v":15.2,"s":"b"},{"t":25.2,"v":14.6,"s":"b"},{"t":25.3,"v":13.9,"s":"b"},{"t":25.4,"v":14.6,"s":"b"},{"t":25.5,"v":15.6,"s":"b"},{"t":25.6,"v":16.2,"s":"b"},{"t":25.7,"v":15.8,"s":"b"},{"t":25.8,"v":16.6,"s":"b"},{"t":25.9,"v":16.2,"s":"b"},{"t":26.0,"v":15.6,"s":"b"},{"t":26.1,"v":15.9,"s":"b"},{"t":26.2,"v":15.3,"s":"b"},{"t":26.3,"v":16,"s":"b"},{"t":26.4,"v":16.8,"s":"b"},{"t":26.5,"v":17.2,"s":"b"},{"t":26.6,"v":17.8,"s":"b"},{"t":26.7,"v":17,"s":"b"},{"t":26.8,"v":16.2,"s":"b"},{"t":26.9,"v":15.8,"s":"b"},{"t":27.0,"v":15.1,"s":"b"},{"t":27.1,"v":14.6,"s":"b"},{"t":27.2,"v":14,"s":"b"},{"t":27.3,"v":13.3,"s":"b"},{"t":27.4,"v":14.2,"s":"b"},{"t":27.5,"v":15.2,"s":"b"},{"t":27.6,"v":15.9,"s":"b"},{"t":27.7,"v":16.8,"s":"b"},{"t":27.8,"v":17.8,"s":"b"},{"t":27.9,"v":19.7,"s":"b"},{"t":28.0,"v":17.5,"s":"b"},{"t":28.1,"v":15.6,"s":"b"},{"t":28.2,"v":14.6,"s":"b"},{"t":28.3,"v":13.7,"s":"b"},{"t":28.4,"v":14.6,"s":"b"},{"t":28.5,"v":15.8,"s":"b"},{"t":28.6,"v":16.4,"s":"b"},{"t":28.7,"v":16.9,"s":"b"},{"t":28.8,"v":17.3,"s":"b"},{"t":28.9,"v":16.9,"s":"b"},{"t":29.0,"v":16.4,"s":"b"},{"t":29.1,"v":17,"s":"b"},{"t":29.2,"v":16.6,"s":"b"},{"t":29.3,"v":17.2,"s":"b"},{"t":29.4,"v":17.5,"s":"b"},{"t":29.5,"v":17.2,"s":"b"},{"t":29.6,"v":18,"s":"b"},{"t":29.7,"v":17,"s":"b"},{"t":29.8,"v":16.4,"s":"b"},{"t":29.9,"v":15.8,"s":"b"},{"t":30.0,"v":15.4,"s":"b"},{"t":30.1,"v":16,"s":"b"},{"t":30.2,"v":16.6,"s":"b"},{"t":30.3,"v":16.9,"s":"b"},{"t":30.4,"v":17.3,"s":"b"},{"t":30.5,"v":16.9,"s":"b"},{"t":30.6,"v":17,"s":"b"},{"t":30.7,"v":16.5,"s":"b"},{"t":30.8,"v":16.6,"s":"b"},{"t":30.9,"v":16.9,"s":"b"},{"t":31.0,"v":17.4,"s":"b"},{"t":31.1,"v":16.8,"s":"b"},{"t":31.2,"v":17.1,"s":"b"},{"t":31.3,"v":16.6,"s":"b"},{"t":31.4,"v":16.2,"s":"b"},{"t":31.5,"v":16.6,"s":"b"},{"t":31.6,"v":15.9,"s":"b"},{"t":31.7,"v":15.6,"s":"b"},{"t":31.8,"v":15.3,"s":"b"},{"t":31.9,"v":14.9,"s":"b"},{"t":32.0,"v":15.2,"s":"b"},{"t":32.1,"v":14.8,"s":"b"},{"t":32.2,"v":14.6,"s":"b"},{"t":32.3,"v":15.8,"s":"b"},{"t":32.4,"v":16.9,"s":"b"},{"t":32.5,"v":17.8,"s":"b"},{"t":32.6,"v":18.4,"s":"b"},{"t":32.7,"v":17.9,"s":"b"},{"t":32.8,"v":18.3,"s":"b"},{"t":32.9,"v":18,"s":"b"},{"t":33.0,"v":18.5,"s":"b"},
{"t":33,"v":15.9,"s":"c"},{"t":33.1,"v":16.8,"s":"c"},{"t":33.2,"v":17.5,"s":"c"},{"t":33.3,"v":18.2,"s":"c"},{"t":33.38,"v":19.5,"s":"c"},{"t":33.45,"v":17.8,"s":"c"},{"t":33.55,"v":17.2,"s":"c"},{"t":33.65,"v":16,"s":"c"},{"t":33.76,"v":14.8,"s":"c"},{"t":33.9,"v":15.6,"s":"c"},{"t":34,"v":16.8,"s":"c"},{"t":34.1,"v":16.2,"s":"c"},{"t":34.2,"v":16.8,"s":"c"},{"t":34.3,"v":15.8,"s":"c"},{"t":34.4,"v":16.3,"s":"c"},{"t":34.5,"v":15.9,"s":"c"},{"t":34.6,"v":16.5,"s":"c"},{"t":34.7,"v":15.5,"s":"c"},{"t":34.8,"v":15.8,"s":"c"},{"t":34.9,"v":15,"s":"c"},{"t":35,"v":15.6,"s":"c"},{"t":35.1,"v":16.2,"s":"c"},{"t":35.2,"v":15.8,"s":"c"},{"t":35.3,"v":16.8,"s":"c"},{"t":35.4,"v":15.9,"s":"c"},{"t":35.5,"v":15.2,"s":"c"},{"t":35.6,"v":14.6,"s":"c"},{"t":35.7,"v":14.1,"s":"c"},{"t":35.8,"v":15,"s":"c"},{"t":35.9,"v":16.2,"s":"c"},{"t":36,"v":15.8,"s":"c"},{"t":36.1,"v":16.9,"s":"c"},{"t":36.2,"v":17.5,"s":"c"},{"t":36.3,"v":16.8,"s":"c"},{"t":36.4,"v":16.2,"s":"c"},{"t":36.5,"v":15.8,"s":"c"},{"t":36.6,"v":15.4,"s":"c"},{"t":36.7,"v":16.2,"s":"c"},{"t":36.8,"v":16.9,"s":"c"},{"t":36.9,"v":16.4,"s":"c"},{"t":37,"v":17.1,"s":"c"},{"t":37.1,"v":17.5,"s":"c"},{"t":37.2,"v":17.2,"s":"c"},{"t":37.35,"v":18,"s":"c"},{"t":37.45,"v":17,"s":"c"},{"t":37.55,"v":15.9,"s":"c"},{"t":37.65,"v":15.2,"s":"c"},{"t":37.8,"v":14.2,"s":"c"},{"t":37.9,"v":15.1,"s":"c"},{"t":38,"v":16.3,"s":"c"},{"t":38.1,"v":15.5,"s":"c"},{"t":38.2,"v":15.9,"s":"c"},{"t":38.3,"v":16.8,"s":"c"},{"t":38.4,"v":16.2,"s":"c"},{"t":38.5,"v":16.6,"s":"c"},{"t":38.6,"v":16.5,"s":"c"},{"t":38.7,"v":17.2,"s":"c"},{"t":38.8,"v":16.9,"s":"c"},{"t":38.9,"v":17.6,"s":"c"},{"t":39,"v":17.2,"s":"c"},{"t":39.1,"v":17.9,"s":"c"},{"t":39.17,"v":18.4,"s":"c"},{"t":39.3,"v":17.6,"s":"c"},{"t":39.4,"v":18.2,"s":"c"},{"t":39.5,"v":17.5,"s":"c"},{"t":39.6,"v":18.3,"s":"c"},{"t":39.7,"v":17.8,"s":"c"},{"t":39.8,"v":18.4,"s":"c"},{"t":39.9,"v":18.2,"s":"c"},{"t":40,"v":17.6,"s":"c"},{"t":40.1,"v":18.3,"s":"c"},{"t":40.2,"v":17.7,"s":"c"},{"t":40.3,"v":18,"s":"c"},{"t":40.4,"v":17.4,"s":"c"},{"t":40.5,"v":18.2,"s":"c"},{"t":40.6,"v":17.3,"s":"c"},{"t":40.7,"v":17.8,"s":"c"},{"t":40.8,"v":16.9,"s":"c"},{"t":40.9,"v":17.3,"s":"c"},{"t":41,"v":16.5,"s":"c"},{"t":41.1,"v":16.8,"s":"c"},{"t":41.2,"v":16.2,"s":"c"},{"t":41.3,"v":16.9,"s":"c"},{"t":41.4,"v":16.6,"s":"c"},{"t":41.5,"v":15.8,"s":"c"},{"t":41.6,"v":15.4,"s":"c"},{"t":41.7,"v":15.6,"s":"c"},{"t":41.8,"v":14.9,"s":"c"},{"t":41.9,"v":16,"s":"c"},{"t":42,"v":17.2,"s":"c"},{"t":42.1,"v":16.8,"s":"c"},{"t":42.25,"v":18.4,"s":"c"},{"t":42.35,"v":17.2,"s":"c"},{"t":42.45,"v":16.6,"s":"c"},{"t":42.6,"v":16,"s":"c"},{"t":42.7,"v":16.8,"s":"c"},{"t":42.8,"v":16.3,"s":"c"},{"t":42.9,"v":17.3,"s":"c"},{"t":43,"v":17.8,"s":"c"},{"t":43.1,"v":17.2,"s":"c"},{"t":43.2,"v":17.9,"s":"c"},{"t":43.3,"v":18,"s":"c"},{"t":43.4,"v":18.4,"s":"c"},{"t":43.5,"v":17.6,"s":"c"},{"t":43.6,"v":16.8,"s":"c"},{"t":43.7,"v":16.3,"s":"c"},{"t":43.8,"v":15.9,"s":"c"},{"t":43.9,"v":16.6,"s":"c"},{"t":44,"v":17,"s":"c"},{"t":44.1,"v":16.6,"s":"c"},{"t":44.2,"v":17.5,"s":"c"},{"t":44.3,"v":16.8,"s":"c"},{"t":44.4,"v":15.6,"s":"c"},{"t":44.5,"v":14.8,"s":"c"},{"t":44.6,"v":15.6,"s":"c"},{"t":44.7,"v":16.4,"s":"c"},{"t":44.8,"v":16.8,"s":"c"},{"t":44.9,"v":17.1,"s":"c"},{"t":45,"v":16.5,"s":"c"},{"t":45.1,"v":17,"s":"c"},{"t":45.2,"v":16.8,"s":"c"},{"t":45.3,"v":17.3,"s":"c"},{"t":45.4,"v":16.9,"s":"c"},{"t":45.5,"v":16.6,"s":"c"},{"t":45.6,"v":16,"s":"c"},{"t":45.7,"v":16.2,"s":"c"},{"t":45.8,"v":15.6,"s":"c"},{"t":45.9,"v":15.8,"s":"c"},{"t":46,"v":15.2,"s":"c"},{"t":46.1,"v":14.9,"s":"c"},{"t":46.2,"v":15.6,"s":"c"},{"t":46.3,"v":16.2,"s":"c"},{"t":46.4,"v":16,"s":"c"},{"t":46.5,"v":16.8,"s":"c"},{"t":46.6,"v":16.2,"s":"c"},{"t":46.7,"v":15.2,"s":"c"},{"t":46.8,"v":14.6,"s":"c"},{"t":46.9,"v":13.9,"s":"c"},{"t":47,"v":14.6,"s":"c"},{"t":47.1,"v":15.6,"s":"c"},{"t":47.2,"v":16.2,"s":"c"},{"t":47.3,"v":15.8,"s":"c"},{"t":47.4,"v":16.6,"s":"c"},{"t":47.5,"v":16.2,"s":"c"},{"t":47.6,"v":15.6,"s":"c"},{"t":47.7,"v":15.9,"s":"c"},{"t":47.8,"v":15.3,"s":"c"},{"t":47.9,"v":16,"s":"c"},{"t":48,"v":16.8,"s":"c"},{"t":48.1,"v":17.2,"s":"c"},{"t":48.2,"v":17.8,"s":"c"},{"t":48.3,"v":17,"s":"c"},{"t":48.4,"v":16.2,"s":"c"},{"t":48.5,"v":15.8,"s":"c"},{"t":48.6,"v":15.1,"s":"c"},{"t":48.7,"v":14.6,"s":"c"},{"t":48.8,"v":14,"s":"c"},{"t":48.9,"v":13.3,"s":"c"},{"t":49,"v":14.2,"s":"c"},{"t":49.1,"v":15.2,"s":"c"},{"t":49.2,"v":15.9,"s":"c"},{"t":49.3,"v":16.8,"s":"c"},{"t":49.4,"v":17.8,"s":"c"},{"t":49.5,"v":19.7,"s":"c"},{"t":49.6,"v":17.5,"s":"c"},{"t":49.7,"v":15.6,"s":"c"},{"t":49.8,"v":14.6,"s":"c"},{"t":49.9,"v":13.7,"s":"c"},{"t":50,"v":14.6,"s":"c"},{"t":50.1,"v":15.8,"s":"c"},{"t":50.2,"v":16.4,"s":"c"},{"t":50.3,"v":16.9,"s":"c"},{"t":50.4,"v":17.3,"s":"c"},{"t":50.5,"v":16.9,"s":"c"},{"t":50.6,"v":16.4,"s":"c"},{"t":50.7,"v":17,"s":"c"},{"t":50.8,"v":16.6,"s":"c"},{"t":50.9,"v":17.2,"s":"c"},{"t":51,"v":17.5,"s":"c"},{"t":51.1,"v":17.2,"s":"c"},{"t":51.2,"v":18,"s":"c"},{"t":51.3,"v":17,"s":"c"},{"t":51.4,"v":16.4,"s":"c"},{"t":51.5,"v":15.8,"s":"c"},{"t":51.6,"v":15.4,"s":"c"},{"t":51.7,"v":16,"s":"c"},{"t":51.8,"v":16.6,"s":"c"},{"t":51.9,"v":16.9,"s":"c"},{"t":52,"v":17.3,"s":"c"},{"t":52.1,"v":16.9,"s":"c"},{"t":52.2,"v":17,"s":"c"},{"t":52.3,"v":16.5,"s":"c"},{"t":52.4,"v":16.6,"s":"c"},{"t":52.5,"v":16.9,"s":"c"},{"t":52.6,"v":17.4,"s":"c"},{"t":52.7,"v":16.8,"s":"c"},{"t":52.8,"v":17.1,"s":"c"},{"t":52.9,"v":16.6,"s":"c"},{"t":53,"v":16.2,"s":"c"},{"t":53.1,"v":16.6,"s":"c"},{"t":53.2,"v":15.9,"s":"c"},{"t":53.3,"v":15.6,"s":"c"},{"t":53.4,"v":15.3,"s":"c"},{"t":53.5,"v":14.9,"s":"c"},{"t":53.6,"v":15.2,"s":"c"},{"t":53.7,"v":14.8,"s":"c"},{"t":53.8,"v":14.6,"s":"c"},{"t":53.9,"v":15.8,"s":"c"},{"t":54,"v":16.9,"s":"c"},{"t":54.1,"v":17.8,"s":"c"},{"t":54.2,"v":18.4,"s":"c"},{"t":54.3,"v":17.9,"s":"c"},{"t":54.4,"v":18.3,"s":"c"},{"t":54.5,"v":18,"s":"c"},{"t":54.6,"v":18.5,"s":"c"},
{"t":54.6,"v":15.9,"s":"d"},{"t":54.7,"v":16.8,"s":"d"},{"t":54.8,"v":17.5,"s":"d"},{"t":54.9,"v":18.2,"s":"d"},{"t":54.98,"v":19.5,"s":"d"},{"t":55.05,"v":17.8,"s":"d"},{"t":55.15,"v":17.2,"s":"d"},{"t":55.25,"v":16,"s":"d"},{"t":55.36,"v":14.8,"s":"d"},{"t":55.5,"v":15.6,"s":"d"},{"t":55.6,"v":16.8,"s":"d"},{"t":55.7,"v":16.2,"s":"d"},{"t":55.8,"v":16.8,"s":"d"},{"t":55.9,"v":15.8,"s":"d"},{"t":56,"v":16.3,"s":"d"},{"t":56.1,"v":15.9,"s":"d"},{"t":56.2,"v":16.5,"s":"d"},{"t":56.3,"v":15.5,"s":"d"},{"t":56.4,"v":15.8,"s":"d"},{"t":56.5,"v":15,"s":"d"},{"t":56.6,"v":15.6,"s":"d"},{"t":56.7,"v":16.2,"s":"d"},{"t":56.8,"v":15.8,"s":"d"},{"t":56.9,"v":16.8,"s":"d"},{"t":57,"v":15.9,"s":"d"},{"t":57.1,"v":15.2,"s":"d"},{"t":57.2,"v":14.6,"s":"d"},{"t":57.3,"v":14.1,"s":"d"},{"t":57.4,"v":15,"s":"d"},{"t":57.5,"v":16.2,"s":"d"},{"t":57.6,"v":15.8,"s":"d"},{"t":57.7,"v":16.9,"s":"d"},{"t":57.8,"v":17.5,"s":"d"},{"t":57.9,"v":16.8,"s":"d"},{"t":58,"v":16.2,"s":"d"},{"t":58.1,"v":15.8,"s":"d"},{"t":58.2,"v":15.4,"s":"d"},{"t":58.3,"v":16.2,"s":"d"},{"t":58.4,"v":16.9,"s":"d"},{"t":58.5,"v":16.4,"s":"d"},{"t":58.6,"v":17.1,"s":"d"},{"t":58.7,"v":17.5,"s":"d"},{"t":58.8,"v":17.2,"s":"d"},{"t":58.95,"v":18,"s":"d"},{"t":59.05,"v":17,"s":"d"},{"t":59.15,"v":15.9,"s":"d"},{"t":59.25,"v":15.2,"s":"d"},{"t":59.4,"v":14.2,"s":"d"},{"t":59.5,"v":15.1,"s":"d"},{"t":59.6,"v":16.3,"s":"d"},{"t":59.7,"v":15.5,"s":"d"},{"t":59.8,"v":15.9,"s":"d"},{"t":59.9,"v":16.8,"s":"d"},{"t":60,"v":16.2,"s":"d"}
]
},
"hconcat":[
{
 "width":518,"height":350,
 "data":{"name":"L"},
 "title":{"text":"a)"},
 "encoding":{
  "x":{"field":"t","type":"quantitative","scale":{"domain":[0,60],"nice":false,"zero":false},
       "axis":{"values":[0,10,20,30,40,50,60],"title":"Temps (Années)","titleX":489,"titleY":-15,"titleAlign":"center","titleBaseline":"middle","labelPadding":9}},
  "y":{"field":"v","type":"quantitative","scale":{"domain":[0,50],"nice":false},
       "axis":{"values":[0,5,10,15,20,25,30,35,40,45,50],"title":["Température","moyennée,","voile (°C)"],"titleAngle":0,"titleX":36,"titleY":-61,"titleAlign":"center","titleBaseline":"alphabetic","titleLineHeight":26,"labelPadding":14}}
 },
 "layer":[
  {"mark":{"type":"line","strokeWidth":1.6},
   "encoding":{"color":{"field":"s","type":"nominal",
     "scale":{"domain":["a","b","c","d","e"],"range":["#92D050","#5B9BD5","#135A98","#5B9BD5","#1F4E79"]},
     "legend":{"orient":"none","legendX":296,"legendY":-86,"title":null,"padding":0,"clipHeight":20,"labelLimit":0,
       "labelExpr":"datum.label=='a'?'Echauffement initial':datum.label=='b'?'Début du cycle répété':datum.label=='c'?'x1':datum.label=='d'?'x2':'x3'",
       "symbolType":"stroke","symbolSize":1444,"symbolStrokeWidth":2,"labelFontSize":16.5,"labelColor":"#1a1a1a","rowPadding":4.5,"labelOffset":4}}}},
  {"transform":[{"filter":"datum.s=='a'||datum.s=='b'"}],
   "mark":{"type":"circle","size":10,"opacity":1},
   "encoding":{"fill":{"field":"s","type":"nominal","scale":{"domain":["a","b"],"range":["#375623","#2F5597"]},"legend":null}}},
  {"data":{"values":[{"xa":0,"xb":60,"ya":0}]},"mark":{"type":"rule","color":"#404040","strokeWidth":1.4},
   "encoding":{"x":{"field":"xa","type":"quantitative"},"x2":{"field":"xb"},"y":{"field":"ya","type":"quantitative"}}},
  {"data":{"values":[{"xa":0,"ya":0,"yb":50}]},"mark":{"type":"rule","color":"#404040","strokeWidth":1.4},
   "encoding":{"x":{"field":"xa","type":"quantitative"},"y":{"field":"ya","type":"quantitative"},"y2":{"field":"yb"}}},
  {"data":{"values":[{"xa":33,"ya":0,"yb":41.2}]},"mark":{"type":"rule","color":"#000000","strokeWidth":1.4,"strokeDash":[5,3]},
   "encoding":{"x":{"field":"xa","type":"quantitative"},"y":{"field":"ya","type":"quantitative"},"y2":{"field":"yb"}}},
  {"data":{"values":[{"xa":32.7,"ya":43.4,"label":"Fin des données in-situ"}]},"mark":{"type":"text","fontSize":16.5,"baseline":"middle","align":"center","color":"#1a1a1a"},
   "encoding":{"x":{"field":"xa","type":"quantitative"},"y":{"field":"ya","type":"quantitative"},"text":{"field":"label"}}},
  {"data":{"values":[{"xa":0,"ya":50}]},"mark":{"type":"point","shape":"M-1,2L0,0L1,2","filled":false,"size":110,"strokeWidth":1.4,"color":"#404040","opacity":1},
   "encoding":{"x":{"field":"xa","type":"quantitative"},"y":{"field":"ya","type":"quantitative"}}},
  {"data":{"values":[{"xa":60,"ya":0}]},"mark":{"type":"point","shape":"M-2,-1L0,0L-2,1","filled":false,"size":110,"strokeWidth":1.4,"color":"#404040","opacity":1},
   "encoding":{"x":{"field":"xa","type":"quantitative"},"y":{"field":"ya","type":"quantitative"}}}
 ]
},
{
 "width":518,"height":350,
 "data":{"name":"R"},
 "title":{"text":"b)"},
 "encoding":{
  "x":{"field":"t","type":"quantitative","scale":{"domain":[0,60],"nice":false,"zero":false},
       "axis":{"values":[0,10,20,30,40,50,60],"title":"Temps (Années)","titleX":491,"titleY":-15,"titleAlign":"center","titleBaseline":"middle","labelPadding":9}},
  "y":{"field":"v","type":"quantitative","scale":{"domain":[0,25],"nice":false},
       "axis":{"values":[0,5,10,15,20,25],"title":["Température","moyennée,","radier (°C)"],"titleAngle":0,"titleX":36,"titleY":-61,"titleAlign":"center","titleBaseline":"alphabetic","titleLineHeight":26,"labelPadding":14}}
 },
 "layer":[
  {"mark":{"type":"line","strokeWidth":1.6},
   "encoding":{"color":{"field":"s","type":"nominal",
     "scale":{"domain":["a","b","c","d","e"],"range":["#92D050","#5B9BD5","#135A98","#5B9BD5","#1F4E79"]},
     "legend":{"orient":"none","legendX":296,"legendY":-86,"title":null,"padding":0,"clipHeight":20,"labelLimit":0,
       "labelExpr":"datum.label=='a'?'Echauffement initial':datum.label=='b'?'Début du cycle répété':datum.label=='c'?'x1':datum.label=='d'?'x2':'x3'",
       "symbolType":"stroke","symbolSize":1444,"symbolStrokeWidth":2,"labelFontSize":16.5,"labelColor":"#1a1a1a","rowPadding":4.5,"labelOffset":4}}}},
  {"transform":[{"filter":"datum.s=='a'||datum.s=='b'"}],
   "mark":{"type":"circle","size":10,"opacity":1},
   "encoding":{"fill":{"field":"s","type":"nominal","scale":{"domain":["a","b"],"range":["#375623","#2F5597"]},"legend":null}}},
  {"data":{"values":[{"xa":0,"xb":60,"ya":0}]},"mark":{"type":"rule","color":"#404040","strokeWidth":1.4},
   "encoding":{"x":{"field":"xa","type":"quantitative"},"x2":{"field":"xb"},"y":{"field":"ya","type":"quantitative"}}},
  {"data":{"values":[{"xa":0,"ya":0,"yb":25}]},"mark":{"type":"rule","color":"#404040","strokeWidth":1.4},
   "encoding":{"x":{"field":"xa","type":"quantitative"},"y":{"field":"ya","type":"quantitative"},"y2":{"field":"yb"}}},
  {"data":{"values":[{"xa":33,"ya":0,"yb":19.9}]},"mark":{"type":"rule","color":"#000000","strokeWidth":1.4,"strokeDash":[5,3]},
   "encoding":{"x":{"field":"xa","type":"quantitative"},"y":{"field":"ya","type":"quantitative"},"y2":{"field":"yb"}}},
  {"data":{"values":[{"xa":32.9,"ya":20.5,"label":"Fin des données in-situ"}]},"mark":{"type":"text","fontSize":16.5,"baseline":"middle","align":"center","color":"#1a1a1a"},
   "encoding":{"x":{"field":"xa","type":"quantitative"},"y":{"field":"ya","type":"quantitative"},"text":{"field":"label"}}},
  {"data":{"values":[{"xa":0,"ya":25}]},"mark":{"type":"point","shape":"M-1,2L0,0L1,2","filled":false,"size":110,"strokeWidth":1.4,"color":"#404040","opacity":1},
   "encoding":{"x":{"field":"xa","type":"quantitative"},"y":{"field":"ya","type":"quantitative"}}},
  {"data":{"values":[{"xa":60,"ya":0}]},"mark":{"type":"point","shape":"M-2,-1L0,0L-2,1","filled":false,"size":110,"strokeWidth":1.4,"color":"#404040","opacity":1},
   "encoding":{"x":{"field":"xa","type":"quantitative"},"y":{"field":"ya","type":"quantitative"}}}
 ]
}
]
}
